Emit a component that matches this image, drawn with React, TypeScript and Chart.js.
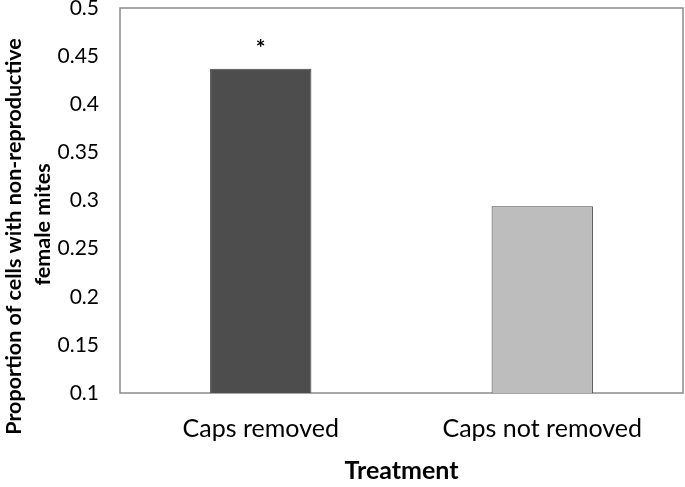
import React, { useEffect, useRef } from "react";
import { Chart, registerables } from "chart.js";

Chart.register(...registerables);

const categories = ["Caps removed", "Caps not removed"];
const proportions = [0.437, 0.294];
const barColors = ["#4d4d4d", "#bdbdbd"];
const significance = ["*", ""];
const yTitle = ["Proportion of cells with non-reproductive", "female mites"];
const xTitle = "Treatment";

const FONT = "Lato, 'Open Sans', sans-serif";

const boxPlugin = {
  id: "boxPlugin",
  beforeDatasetsDraw(chart: any) {
    const { ctx, chartArea } = chart;
    ctx.save();
    ctx.strokeStyle = "#8a8a8a";
    ctx.lineWidth = 1.5;
    ctx.strokeRect(chartArea.left, chartArea.top, chartArea.right - chartArea.left, chartArea.bottom - chartArea.top);
    ctx.restore();
  },
  afterDatasetsDraw(chart: any) {
    const { ctx } = chart;
    const meta = chart.getDatasetMeta(0);
    ctx.save();
    ctx.fillStyle = "#000";
    ctx.font = `bold 23px ${FONT}`;
    ctx.textAlign = "center";
    ctx.textBaseline = "alphabetic";
    meta.data.forEach((bar: any, i: number) => {
      if (significance[i]) ctx.fillText(significance[i], bar.x, bar.y - 13);
    });
    ctx.restore();
  },
  afterDraw(chart: any) {
    const { ctx, chartArea } = chart;
    ctx.save();
    ctx.fillStyle = "#000";
    ctx.font = `bold 21.5px ${FONT}`;
    ctx.textAlign = "center";
    ctx.textBaseline = "middle";
    const mid = (chartArea.top + chartArea.bottom) / 2;
    const xs = [14, 43];
    const offs = [36, 24];
    yTitle.forEach((line, i) => {
      ctx.save();
      ctx.translate(xs[i], mid + offs[i]);
      ctx.rotate(-Math.PI / 2);
      ctx.fillText(line, 0, 0);
      ctx.restore();
    });
    ctx.restore();
  },
};

export default function App() {
  const ref = useRef<HTMLCanvasElement>(null);
  useEffect(() => {
    document.body.style.margin = "0";
    const chart = new Chart(ref.current!, {
      type: "bar",
      data: {
        labels: categories,
        datasets: [
          {
            data: proportions,
            backgroundColor: barColors,
            borderColor: "#444",
            borderWidth: 1,
            categoryPercentage: 1,
            barPercentage: 0.36,
          },
        ],
      },
      options: {
        animation: false,
        responsive: false,
        layout: { padding: 0 },
        plugins: { legend: { display: false }, tooltip: { enabled: false } },
        scales: {
          x: {
            grid: { display: false, drawTicks: false },
            border: { display: false },
            ticks: { color: "#000", font: { family: FONT, size: 25 }, padding: 21 },
            title: { display: true, text: xTitle, color: "#000", font: { family: FONT, size: 25, weight: "bold" }, padding: { top: 0, bottom: 1 } },
            afterFit: (s: any) => {
              s.height = 94;
              s.paddingLeft = 0;
              s.paddingRight = 2;
            },
          },
          y: {
            min: 0.1,
            max: 0.5,
            grid: { display: false, drawTicks: false },
            border: { display: false },
            ticks: { stepSize: 0.05, color: "#000", font: { family: FONT, size: 21 }, padding: 21, callback: (v: any) => String(Math.round(Number(v) * 100) / 100) },
            afterFit: (s: any) => {
              s.width = 120;
              s.paddingTop = 8;
              s.paddingBottom = 0;
            },
          },
        },
      },
      plugins: [boxPlugin],
    });
    return () => chart.destroy();
  }, []);
  return <canvas ref={ref} width={685} height={487} style={{ display: "block" }} />;
}
